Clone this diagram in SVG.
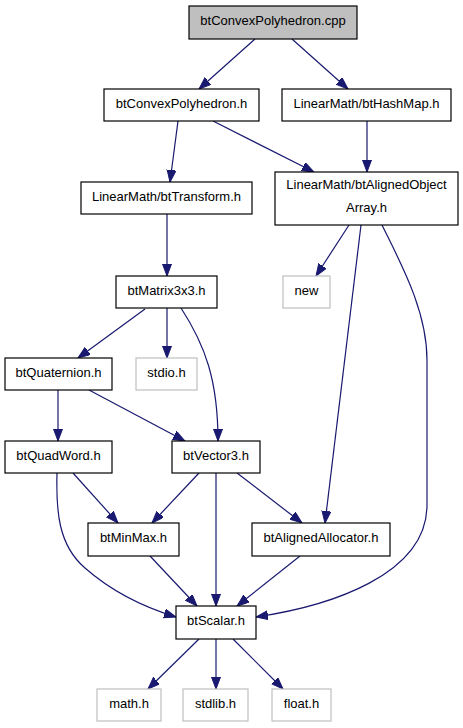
<svg xmlns="http://www.w3.org/2000/svg" width="463" height="728" viewBox="0 0 463 728">
<style>
.n rect{fill:#ffffff;stroke:#000000;stroke-width:1.2}
.g rect{fill:#ffffff;stroke:#bfbfbf;stroke-width:1.2}
.root rect{fill:#bfbfbf;stroke:#000000;stroke-width:1.2}
text{font-family:"Liberation Sans",Arial,sans-serif;font-size:13px;fill:#000000;text-anchor:middle}
.e path{fill:none;stroke:#191970;stroke-width:1.2;marker-end:url(#ah)}
</style>
<defs>
<marker id="ah" markerUnits="userSpaceOnUse" markerWidth="14" markerHeight="12" refX="12" refY="4.5" orient="auto">
<path d="M0,0 L12,4.5 L0,9 Z" fill="#191970" stroke="#191970" stroke-width="1"/>
</marker>
</defs>
<rect width="463" height="728" fill="#ffffff"/>
<g id="edges" class="e">
<path d="M255,39 L199,89"/>
<path d="M292,39 L348,89"/>
<path d="M178,121 L170,182"/>
<path d="M213,121 L314,172"/>
<path d="M367,121 L367,172"/>
<path d="M167,214 L167,276"/>
<path d="M349,225 L316,276"/>
<path d="M361,225 L325,523"/>
<path d="M382,225 C400,262 427,310 427,360 L427,505 C427,575 330,606 256,617"/>
<path d="M145,309 L78,358"/>
<path d="M167,308 L167,358"/>
<path d="M181,308 C205,345 218,380 218,441"/>
<path d="M58,390 L58,441"/>
<path d="M89,390 L185,441"/>
<path d="M73,473 L118,523"/>
<path d="M57,473 C56,510 58,545 85,568 C110,590 140,606 176,617"/>
<path d="M199,473 L152,523"/>
<path d="M216,473 L216,606"/>
<path d="M237,473 L302,523"/>
<path d="M150,556 L197,606"/>
<path d="M300,556 L237,606"/>
<path d="M199,639 L148,689"/>
<path d="M216,639 L216,689"/>
<path d="M233,639 L283,689"/>
</g>
<g id="node_cpp" class="root"><rect x="189" y="6" width="168" height="33"/><text x="273" y="24.5">btConvexPolyhedron.cpp</text></g>
<g id="node_convexh" class="n"><rect x="104" y="89" width="155" height="32"/><text x="181.5" y="107.5">btConvexPolyhedron.h</text></g>
<g id="node_hashmap" class="n"><rect x="282" y="89" width="169" height="32"/><text x="366.5" y="107.5">LinearMath/btHashMap.h</text></g>
<g id="node_transform" class="n"><rect x="81" y="182" width="171" height="32"/><text x="166.5" y="200.5">LinearMath/btTransform.h</text></g>
<g id="node_aoa" class="n"><rect x="275" y="172" width="183" height="53"/><text x="366.5" y="189">LinearMath/btAlignedObject</text><text x="366.5" y="212">Array.h</text></g>
<g id="node_matrix" class="n"><rect x="116" y="276" width="101" height="32"/><text x="166.5" y="294.5">btMatrix3x3.h</text></g>
<g id="node_new" class="g"><rect x="283" y="276" width="47" height="32"/><text x="306.5" y="294.5">new</text></g>
<g id="node_quat" class="n"><rect x="5" y="358" width="107" height="32"/><text x="58.5" y="376.5">btQuaternion.h</text></g>
<g id="node_stdio" class="g"><rect x="136" y="358" width="61" height="32"/><text x="166.5" y="376.5">stdio.h</text></g>
<g id="node_quadword" class="n"><rect x="5" y="441" width="107" height="32"/><text x="58.5" y="459.5">btQuadWord.h</text></g>
<g id="node_vector3" class="n"><rect x="172" y="441" width="88" height="32"/><text x="216" y="459.5">btVector3.h</text></g>
<g id="node_minmax" class="n"><rect x="88" y="523" width="91" height="33"/><text x="133.5" y="541.5">btMinMax.h</text></g>
<g id="node_allocator" class="n"><rect x="252" y="523" width="138" height="33"/><text x="321" y="541.5">btAlignedAllocator.h</text></g>
<g id="node_scalar" class="n"><rect x="176" y="606" width="80" height="33"/><text x="216" y="624.5">btScalar.h</text></g>
<g id="node_math" class="g"><rect x="97" y="689" width="64" height="32"/><text x="129" y="707.5">math.h</text></g>
<g id="node_stdlib" class="g"><rect x="183" y="689" width="65" height="32"/><text x="215.5" y="707.5">stdlib.h</text></g>
<g id="node_float" class="g"><rect x="272" y="689" width="59" height="32"/><text x="301.5" y="707.5">float.h</text></g>
</svg>
